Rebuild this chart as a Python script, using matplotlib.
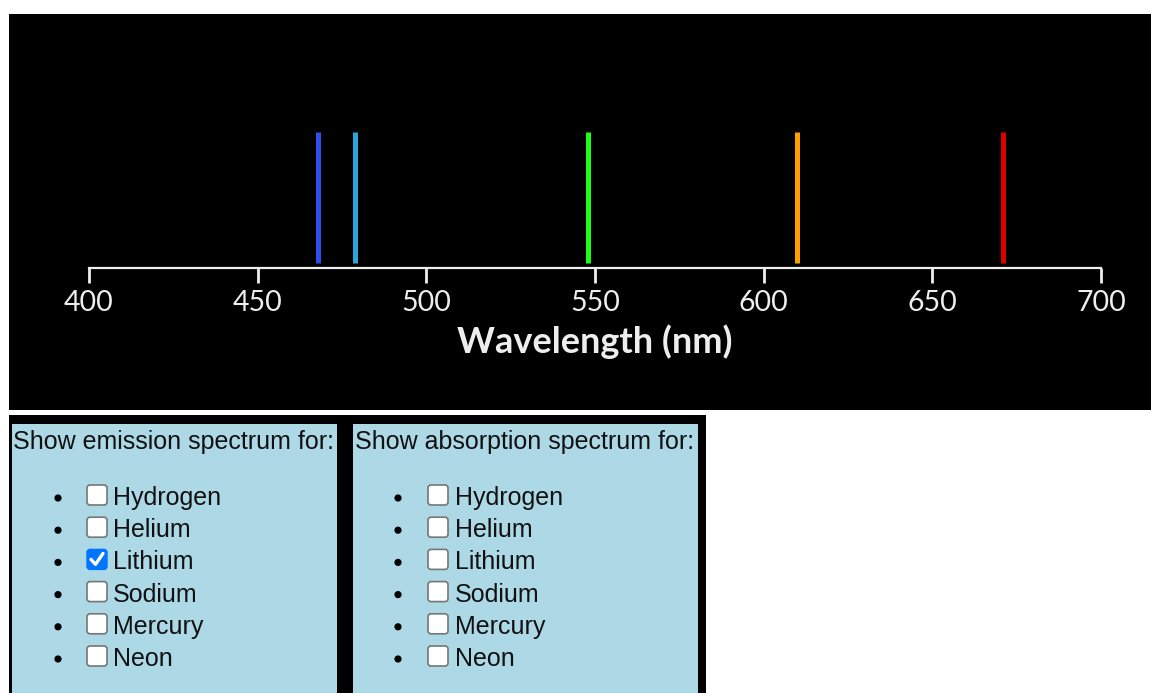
import matplotlib
matplotlib.use("Agg")
import matplotlib.pyplot as plt
from matplotlib.patches import Rectangle, FancyBboxPatch, Circle

# ---- data ----
wavelengths = [468, 479, 548, 610, 671]
line_colors = ["#2d4ff0", "#2aa6dc", "#1cff1c", "#ffa000", "#dd0000"]
tick_values = [400, 450, 500, 550, 600, 650, 700]
x_label = "Wavelength (nm)"
elements = ["Hydrogen", "Helium", "Lithium", "Sodium", "Mercury", "Neon"]
emission_checked = [False, False, True, False, False, False]
absorption_checked = [False, False, False, False, False, False]
emission_title = "Show emission spectrum for:"
absorption_title = "Show absorption spectrum for:"

W, H = 1151, 693
fig = plt.figure(figsize=(W / 100, H / 100), dpi=100)
fig.patch.set_facecolor("white")

# overlay axes in pixel coordinates (y downward)
ov = fig.add_axes([0, 0, 1, 1])
ov.set_xlim(0, W)
ov.set_ylim(H, 0)
ov.axis("off")

# black spectrum panel
ov.add_patch(Rectangle((9, 14), W - 9, 396, facecolor="black", edgecolor="none", zorder=0))

# lower black container + light blue boxes
ov.add_patch(Rectangle((9, 415), 697, H - 415, facecolor="black", edgecolor="none", zorder=0))
ov.add_patch(Rectangle((12, 424), 325, H - 424, facecolor="#add8e6", edgecolor="none", zorder=1))
ov.add_patch(Rectangle((353, 424), 345, H - 424, facecolor="#add8e6", edgecolor="none", zorder=1))

# spectrum axes
x0, x1 = 89, 1101
ytop, ybot = 132, 268
ax = fig.add_axes([x0 / W, (H - ybot) / H, (x1 - x0) / W, (ybot - ytop) / H])
ax.set_facecolor("none")
ax.set_xlim(400, 700)
ax.set_ylim(0, 1)
ax.vlines(wavelengths, 5 / 136, 1, colors=line_colors, linewidth=3.6)
for s in ["top", "left", "right"]:
    ax.spines[s].set_visible(False)
ax.spines["bottom"].set_color("#eeeeee")
ax.spines["bottom"].set_linewidth(1.6)
ax.set_yticks([])
ax.set_xticks(tick_values)
ax.set_xticklabels([str(v) for v in tick_values])
ax.tick_params(axis="x", colors="#eeeeee", length=11, width=2.0, pad=5,
               labelsize=20.5, labelcolor="#eeeeee")
for lab in ax.get_xticklabels():
    lab.set_fontfamily("Lato")
ax.set_xlabel(x_label, fontsize=26, fontfamily="Lato", fontweight="bold",
              color="#eeeeee", labelpad=6)

# checkbox lists
FS = 18

def draw_list(title, tx, bullet_x, box_x, label_x, checked):
    ov.text(tx, 449, title, fontsize=FS, fontfamily="Liberation Sans",
            color="#111111", va="baseline", ha="left", zorder=3)
    for i, (name, chk) in enumerate(zip(elements, checked)):
        y = 496 + 32.2 * i
        ov.add_patch(Circle((bullet_x, y + 2), 3.6, facecolor="black", edgecolor="none", zorder=3))
        if chk:
            ov.add_patch(FancyBboxPatch((box_x, y - 11), 20, 20,
                                        boxstyle="round,pad=0,rounding_size=3",
                                        facecolor="#0075ff", edgecolor="#0075ff",
                                        linewidth=1, zorder=3))
            ov.plot([box_x + 4, box_x + 8.5, box_x + 16], [y - 1, y + 4, y - 7],
                    color="white", linewidth=2.4, solid_capstyle="round",
                    solid_joinstyle="round", zorder=4)
        else:
            ov.add_patch(FancyBboxPatch((box_x, y - 11), 20, 20,
                                        boxstyle="round,pad=0,rounding_size=3",
                                        facecolor="white", edgecolor="#767676",
                                        linewidth=1.2, zorder=3))
        ov.text(label_x, y + 9, name, fontsize=FS, fontfamily="Liberation Sans",
                color="#111111", va="baseline", ha="left", zorder=3)

draw_list(emission_title, 13, 58, 87, 113, emission_checked)
draw_list(absorption_title, 355, 398, 428, 455, absorption_checked)

fig.savefig("out.png", dpi=100, facecolor=fig.get_facecolor())
